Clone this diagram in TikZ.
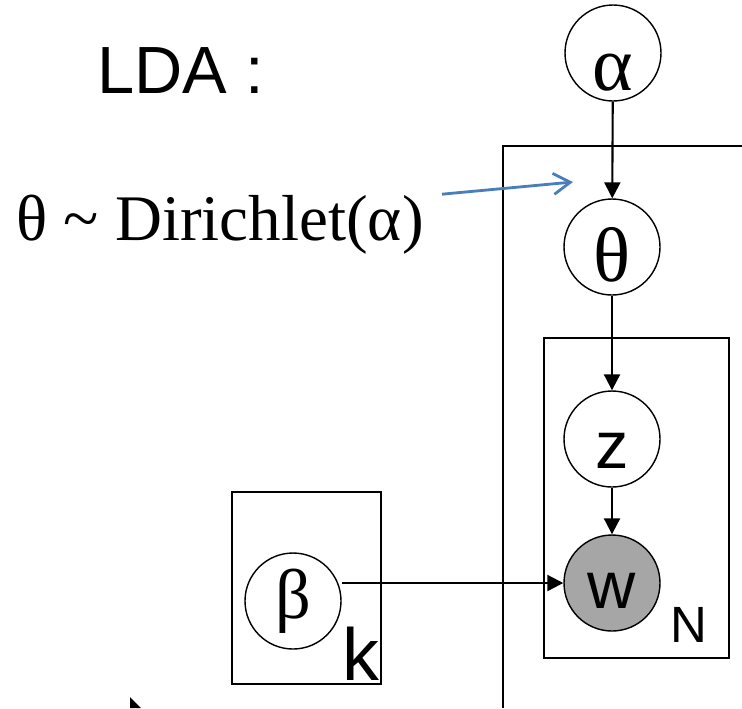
\documentclass[tikz,border=0pt]{standalone}
\usepackage{fontspec}
\setmainfont{Liberation Serif}
\setsansfont{Liberation Sans}
\usepackage{xcolor}
\definecolor{pointerblue}{HTML}{4A7EBB}
\usetikzlibrary{arrows.meta, positioning}

\begin{document}
\begin{tikzpicture}[
    % Define simple, standard styles
    latent/.style={circle, draw=black, line width=0.8pt, minimum size=1.92cm, inner sep=0pt, fill=white},
    observed/.style={latent, fill=black!35},
    lowtext/.style={text height=#1, text depth=0pt},
    plate/.style={rectangle, draw=black, line width=0.8pt, inner sep=0pt},
    greekfont/.style={font=\fontsize{44}{48}\selectfont},
    sansfont/.style={font=\sffamily\fontsize{38}{42}\selectfont},
    arrow/.style={line width=1.2pt, -{Triangle[length=0.32cm, width=0.32cm]}, draw=black},
    pointer/.style={line width=1.6pt, -{Straight Barb[length=0.34cm, width=0.42cm]}, draw=pointerblue}
]
\useasboundingbox (0,0) rectangle (14.84,-14.16);

% 1. Title and prior text
\node[sansfont, anchor=base west, inner sep=0pt] (title) at (1.94,-1.86) {LDA :};
\node[anchor=base west, inner sep=0pt, font=\fontsize{37}{42}\selectfont] (prior) at (0.32,-4.80)
    {θ \textasciitilde\ Dirichlet(α)};

% 2. Plates (the document plate runs off the page)
\coordinate (docnw) at (10.06,-2.92);
\draw[line width=0.8pt] (14.84,-2.92) -- (docnw) -- (10.06,-14.16);
\node[plate, minimum width=3.70cm, minimum height=6.40cm] (nplate) at (12.73,-9.96) {};
\node[plate, minimum width=2.98cm, minimum height=3.84cm] (kplate) at (6.13,-11.76) {};

% 3. Variables
\node[latent, greekfont, lowtext=1.48cm] (alpha) at (12.26,-1.06) {α};
\node[latent, greekfont, lowtext=1.36cm] (theta) at (12.24,-4.94) {θ};
\node[latent, sansfont, lowtext=1.16cm] (z) at (12.24,-8.78) {z};
\node[observed, sansfont, lowtext=1.0cm] (w) at (12.24,-11.66) {w};
\node[latent, font=\fontsize{40}{44}\selectfont, lowtext=0.68cm] (beta) at (5.86,-12.02) {β};

% Plate labels
\node[anchor=base, inner sep=0pt, font=\sffamily\fontsize{29}{32}\selectfont] (nlabel) at (13.78,-12.84) {N};
\node[anchor=base, inner sep=0pt, font=\sffamily\fontsize{42}{46}\selectfont] (klabel) at (7.22,-13.60) {k};

% 4. Arrows
\draw[arrow] (alpha) -- (theta);
\draw[arrow] (theta) -- (z);
\draw[arrow] (z) -- (w);
\draw[arrow] (w.west -| beta.east) -- (w.west);
\coordinate (ptr) at (11.46,-3.64);
\draw[pointer] ([xshift=0.36cm]prior.north east) -- (ptr);

% 5. Cursor fragment at the bottom
\fill (2.6,-13.94) -- (2.82,-14.16) -- (2.6,-14.16) -- cycle;

\end{tikzpicture}
\end{document}
